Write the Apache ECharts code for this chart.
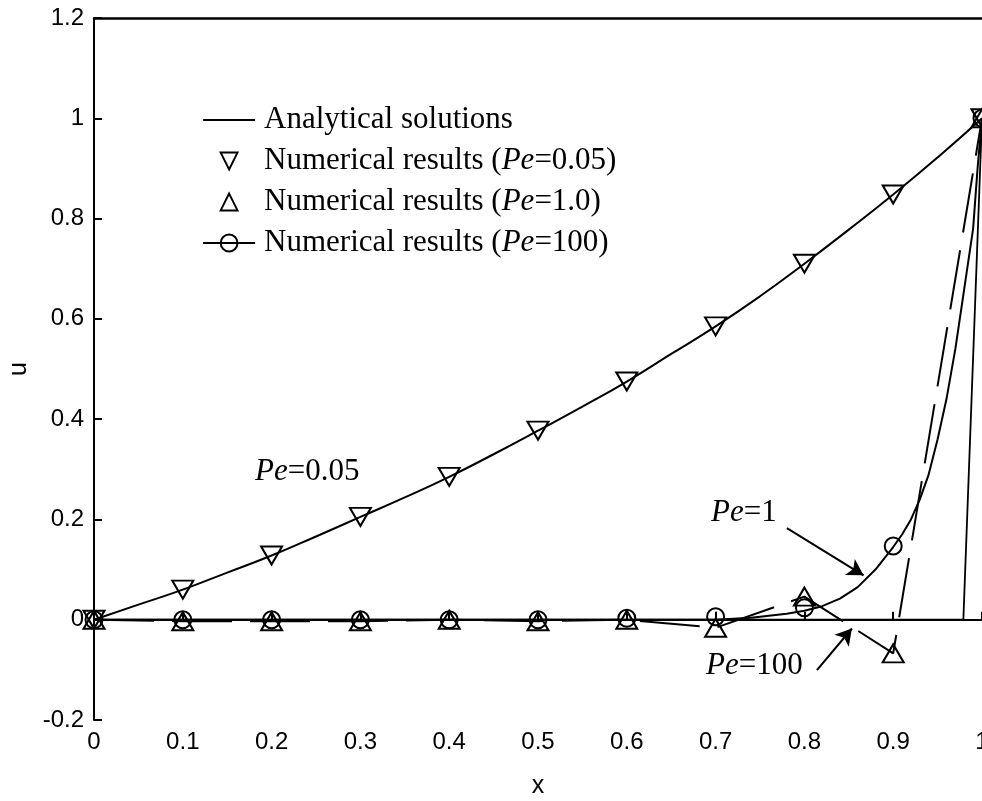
<!DOCTYPE html>
<html>
<head>
<meta charset="utf-8">
<script src="https://cdn.jsdelivr.net/npm/echarts@6/dist/echarts.min.js"></script>
<style>
html,body{margin:0;padding:0;background:#fff;}
#chart{width:982px;height:801px;}
</style>
</head>
<body>
<div id="chart"></div>
<script>
// Analytical solution, Pe = 0.05
const analyticX005 = [0, 0.05, 0.1, 0.15, 0.2, 0.25, 0.3, 0.35, 0.4, 0.45, 0.5, 0.55, 0.6, 0.65, 0.7, 0.75, 0.8, 0.85, 0.9, 0.95, 1.0];
const analyticU005 = [0, 0.03, 0.06, 0.094, 0.128, 0.166, 0.205, 0.244, 0.285, 0.33, 0.377, 0.425, 0.475, 0.53, 0.585, 0.645, 0.71, 0.778, 0.848, 0.922, 1.0];

// Steep analytical curve (labelled Pe=1)
const steepX = [0, 0.7, 0.74, 0.78, 0.8, 0.82, 0.84, 0.86, 0.88, 0.9, 0.91, 0.92, 0.93, 0.94, 0.95, 0.96, 0.97, 0.98, 0.99, 0.995, 1.0];
const steepU = [0, 0, 0.004, 0.012, 0.018, 0.027, 0.042, 0.065, 0.1, 0.145, 0.17, 0.2, 0.24, 0.29, 0.36, 0.44, 0.54, 0.66, 0.78, 0.9, 1.0];

// Boundary-layer analytical curve (labelled Pe=100)
const layerX = [0, 0.979, 1.0];
const layerU = [0, 0, 1.0];

// Numerical results
const numX = [0, 0.1, 0.2, 0.3, 0.4, 0.5, 0.6, 0.7, 0.8, 0.9, 1.0];
const numPe005 = [0, 0.06, 0.128, 0.205, 0.285, 0.377, 0.475, 0.585, 0.71, 0.848, 1.0];
const numPe1 = [0, -0.003, -0.003, -0.003, 0.0, -0.003, 0.0, -0.016, 0.046, -0.067, 1.0];
const numPe100 = [0, 0, 0, 0, 0, 0, 0.003, 0.006, 0.024, 0.147, 1.0];

const names = {
  analytic: 'Analytical solutions',
  n005: 'Numerical results (Pe=0.05)',
  n1: 'Numerical results (Pe=1.0)',
  n100: 'Numerical results (Pe=100)'
};

const zip = (xs, ys) => xs.map((x, i) => [x, ys[i]]);

const serif = '"Liberation Serif", "Times New Roman", serif';
const sans = '"Liberation Sans", Arial, sans-serif';
const hollow = { color: 'rgba(255,255,255,0)', borderColor: '#000', borderWidth: 2 };
const noLine = { color: '#000', width: 2, opacity: 0 };

const chart = echarts.init(document.getElementById('chart'), null, { renderer: 'canvas' });

chart.setOption({
  animation: false,
  backgroundColor: '#fff',
  grid: { left: 94, right: 0, top: 18, bottom: 81, containLabel: false, outerBoundsMode: 'none' },
  legend: {
    orient: 'vertical',
    left: 197,
    top: 97,
    itemWidth: 52,
    itemHeight: 21,
    itemGap: 5,
    selectedMode: false,
    data: [
      { name: names.analytic, itemStyle: { opacity: 0 }, lineStyle: { color: '#000', width: 2, opacity: 1 } },
      { name: names.n005, lineStyle: { opacity: 0 } },
      { name: names.n1, lineStyle: { opacity: 0 } },
      { name: names.n100, lineStyle: { color: '#000', width: 2.2, opacity: 1, type: 'solid' } }
    ],
    formatter: n => n.replace('Pe', '{i|Pe}'),
    textStyle: {
      color: '#000',
      fontFamily: serif,
      fontSize: 31,
      lineHeight: 36,
      padding: [0, 0, 0, 4],
      rich: { i: { fontStyle: 'italic', fontFamily: serif, fontSize: 31, color: '#000' } }
    }
  },
  xAxis: [{
    type: 'value',
    min: 0, max: 1, interval: 0.1,
    name: 'x',
    nameLocation: 'middle',
    nameGap: 54,
    nameTextStyle: { fontFamily: sans, fontSize: 25, color: '#000' },
    axisLine: { lineStyle: { color: '#000', width: 2 } },
    axisTick: { inside: true, length: 8, lineStyle: { color: '#000', width: 2 } },
    axisLabel: { color: '#000', fontFamily: sans, fontSize: 24, margin: 10 },
    splitLine: { show: false }
  }, {
    type: 'value',
    position: 'top',
    min: 0, max: 1,
    axisLine: { show: true, lineStyle: { color: '#000', width: 2.5 } },
    axisTick: { show: false },
    axisLabel: { show: false },
    splitLine: { show: false }
  }],
  yAxis: {
    type: 'value',
    min: -0.2, max: 1.2, interval: 0.2,
    name: 'u',
    nameLocation: 'middle',
    nameGap: 54,
    nameRotate: 90,
    nameTextStyle: { fontFamily: sans, fontSize: 25, color: '#000' },
    axisLine: { show: true, lineStyle: { color: '#000', width: 2 } },
    axisTick: { show: true, inside: true, length: 8, lineStyle: { color: '#000', width: 2 } },
    axisLabel: { color: '#000', fontFamily: sans, fontSize: 24, margin: 10 },
    splitLine: { show: false }
  },
  series: [
    {
      name: names.analytic,
      type: 'line',
      data: zip(analyticX005, analyticU005),
      smooth: true,
      symbol: 'none',
      lineStyle: { color: '#000', width: 2 },
      itemStyle: { color: '#000' },
      z: 2
    },
    {
      name: 'steep',
      type: 'line',
      data: zip(steepX, steepU),
      symbol: 'none',
      lineStyle: { color: '#000', width: 2 },
      z: 2
    },
    {
      name: 'layer',
      type: 'line',
      data: zip(layerX, layerU),
      symbol: 'none',
      lineStyle: { color: '#000', width: 1.8 },
      z: 2,
      markLine: {
        silent: true,
        symbol: ['none', 'arrow'],
        symbolSize: [14, 16],
        label: { show: false },
        lineStyle: { color: '#000', width: 2, type: 'solid' },
        data: [
          [{ coord: [0.7803, 0.1825] }, { coord: [0.8666, 0.0885] }],
          [{ coord: [0.8141, -0.1006] }, { coord: [0.8535, -0.0175] }]
        ]
      }
    },
    {
      name: 'dashed',
      type: 'line',
      data: zip(numX, numPe1),
      symbol: 'none',
      lineStyle: { color: '#000', width: 2, type: [60, 18] },
      z: 2
    },
    {
      name: names.n005,
      type: 'line',
      data: zip(numX, numPe005),
      symbol: 'triangle',
      symbolRotate: 180,
      symbolSize: [21, 18],
      showSymbol: true,
      showAllSymbol: true,
      lineStyle: noLine,
      itemStyle: hollow,
      z: 5
    },
    {
      name: names.n1,
      type: 'line',
      data: zip(numX, numPe1),
      symbol: 'triangle',
      symbolSize: [21, 18],
      showSymbol: true,
      showAllSymbol: true,
      lineStyle: noLine,
      itemStyle: hollow,
      z: 5
    },
    {
      name: names.n100,
      type: 'line',
      data: zip(numX, numPe100),
      symbol: 'circle',
      symbolSize: 17,
      showSymbol: true,
      showAllSymbol: true,
      lineStyle: noLine,
      itemStyle: hollow,
      z: 6
    }
  ],
  graphic: [
    {
      type: 'text', left: 255, top: 456,
      style: { text: '{i|Pe}=0.05', fontFamily: serif, fontSize: 31, fill: '#000',
        rich: { i: { fontStyle: 'italic', fontFamily: serif, fontSize: 31, fill: '#000' } } }
    },
    {
      type: 'text', left: 711, top: 497,
      style: { text: '{i|Pe}=1', fontFamily: serif, fontSize: 31, fill: '#000',
        rich: { i: { fontStyle: 'italic', fontFamily: serif, fontSize: 31, fill: '#000' } } }
    },
    {
      type: 'text', left: 706, top: 650,
      style: { text: '{i|Pe}=100', fontFamily: serif, fontSize: 31, fill: '#000',
        rich: { i: { fontStyle: 'italic', fontFamily: serif, fontSize: 31, fill: '#000' } } }
    }
  ]
});
</script>
</body>
</html>
